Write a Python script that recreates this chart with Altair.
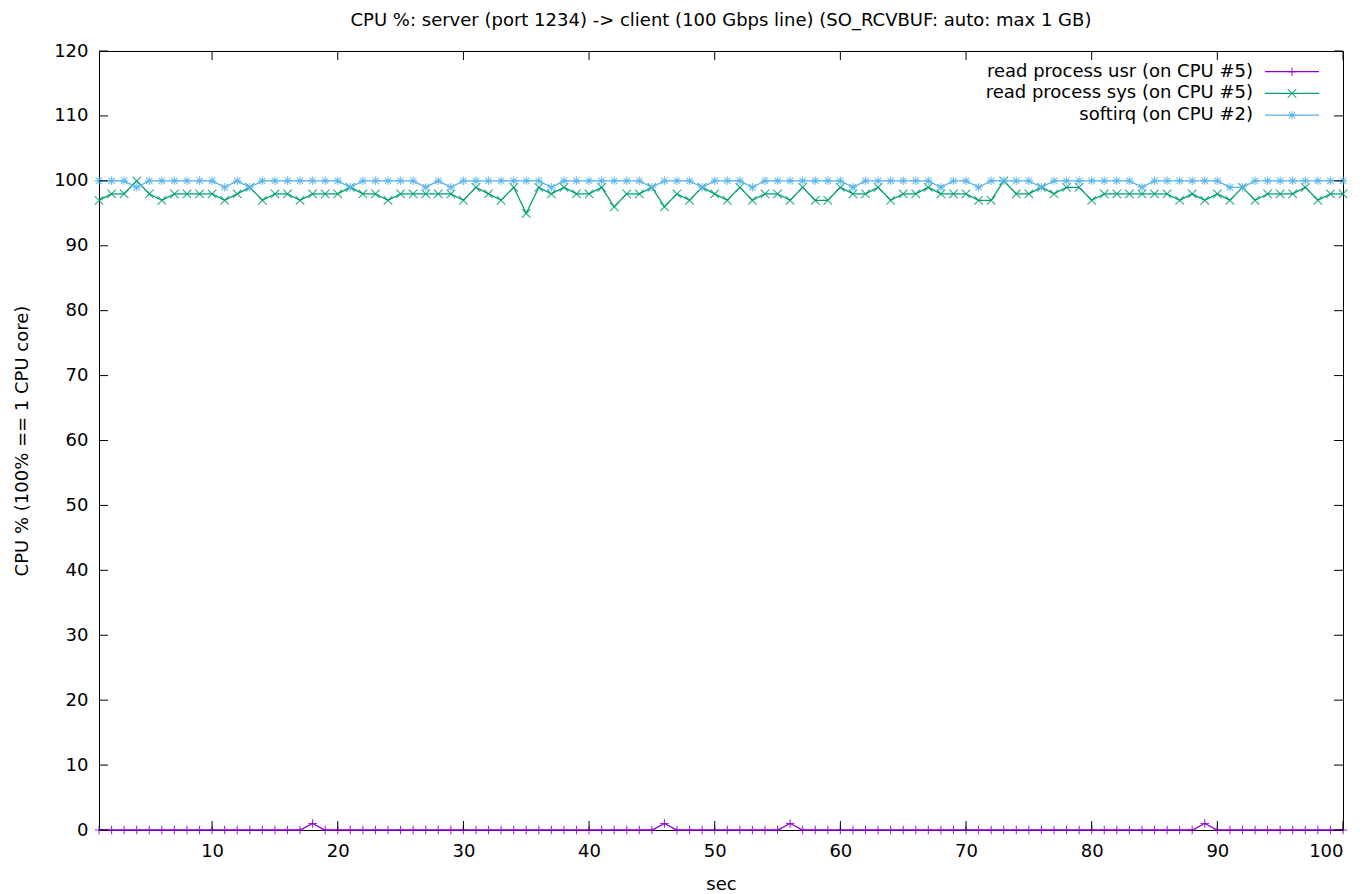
import altair as alt
import pandas as pd

# ---- data ----
secs = list(range(1, 101))

usr = [0] * 100
for s in (18, 46, 56, 89):
    usr[s - 1] = 1

sys_vals = [97, 98, 98, 100, 98, 97, 98, 98, 98, 98,
            97, 98, 99, 97, 98, 98, 97, 98, 98, 98,
            99, 98, 98, 97, 98, 98, 98, 98, 98, 97,
            99, 98, 97, 99, 95, 99, 98, 99, 98, 98,
            99, 96, 98, 98, 99, 96, 98, 97, 99, 98,
            97, 99, 97, 98, 98, 97, 99, 97, 97, 99,
            98, 98, 99, 97, 98, 98, 99, 98, 98, 98,
            97, 97, 100, 98, 98, 99, 98, 99, 99, 97,
            98, 98, 98, 98, 98, 98, 97, 98, 97, 98,
            97, 99, 97, 98, 98, 98, 99, 97, 98, 98]

softirq = [100, 100, 100, 99, 100, 100, 100, 100, 100, 100,
           99, 100, 99, 100, 100, 100, 100, 100, 100, 100,
           99, 100, 100, 100, 100, 100, 99, 100, 99, 100,
           100, 100, 100, 100, 100, 100, 99, 100, 100, 100,
           100, 100, 100, 100, 99, 100, 100, 100, 99, 100,
           100, 100, 99, 100, 100, 100, 100, 100, 100, 100,
           99, 100, 100, 100, 100, 100, 100, 99, 100, 100,
           99, 100, 100, 100, 100, 99, 100, 100, 100, 100,
           100, 100, 100, 99, 100, 100, 100, 100, 100, 100,
           99, 99, 100, 100, 100, 100, 100, 100, 100, 100]

series_names = ["read process usr (on CPU #5)",
                "read process sys (on CPU #5)",
                "softirq (on CPU #2)"]
series_values = [usr, sys_vals, softirq]
series_colors = ["#9400D3", "#009E73", "#56B4E9"]

x_ticks = [10, 20, 30, 40, 50, 60, 70, 80, 90, 100]
y_ticks = [0, 10, 20, 30, 40, 50, 60, 70, 80, 90, 100, 110, 120]

title_text = "CPU %: server (port 1234) -> client (100 Gbps line) (SO_RCVBUF: auto: max 1 GB)"
x_title = "sec"
y_title = "CPU % (100% == 1 CPU core)"

# ---- styling ----
W, H = 1244, 779
FONT = "DejaVu Sans"
FS = 18
PLUS = "M-1,0L1,0M0,-1L0,1"
CROSS = "M-1,-1L1,1M-1,1L1,-1"
STAR = "M-1,0L1,0M0,-1L0,1M-0.75,-0.75L0.75,0.75M-0.75,0.75L0.75,-0.75"
shapes = [PLUS, CROSS, STAR]

xscale = alt.Scale(domain=[1, 100], nice=False, zero=False)
yscale = alt.Scale(domain=[0, 120], nice=False)
xaxis = alt.Axis(values=x_ticks, title=x_title, titleY=54, titleBaseline="middle",
                 labelPadding=12)
yaxis = alt.Axis(values=y_ticks, title=y_title, titleX=-77, titleY=H / 2,
                 titleAngle=-90, titleAlign="center", titleBaseline="middle",
                 labelPadding=11)

layers = []
for i, (name, vals, col, shp) in enumerate(zip(series_names, series_values, series_colors, shapes)):
    df = pd.DataFrame({"sec": secs, "cpu": vals})
    base = alt.Chart(df).encode(
        x=alt.X("sec:Q", scale=xscale, axis=xaxis),
        y=alt.Y("cpu:Q", scale=yscale, axis=yaxis),
    )
    line = base.mark_line(color=col, strokeWidth=1.3)
    pts = base.mark_point(shape=shp, size=72, color=col, filled=False, strokeWidth=1.1,
                          opacity=0.85)
    layers += [line, pts]

    # legend entry (gnuplot style: label on the left, sample on the right)
    ly = 20.7 + 21.7 * i
    ldf = pd.DataFrame({"label": [name]})
    lb = alt.Chart(ldf)
    layers.append(lb.mark_text(align="right", baseline="middle", font=FONT, fontSize=FS,
                               color="#000000").encode(text="label:N", x=alt.value(1154),
                                                       y=alt.value(ly)))
    layers.append(lb.mark_rule(color=col, strokeWidth=1.3).encode(
        x=alt.value(1166), x2=alt.value(1220), y=alt.value(ly)))
    layers.append(lb.mark_point(shape=shp, size=72, color=col, filled=False, strokeWidth=1.1,
                                opacity=0.85).encode(x=alt.value(1193), y=alt.value(ly)))

# inward tick marks on all four sides
ydf = pd.DataFrame({"cpu": y_ticks})
xdf = pd.DataFrame({"sec": x_ticks})
tick_col = "#000000"
ytick_enc = alt.Y("cpu:Q", scale=yscale, axis=yaxis)
xtick_enc = alt.X("sec:Q", scale=xscale, axis=xaxis)
layers.append(alt.Chart(ydf).mark_rule(color=tick_col, strokeWidth=1).encode(
    y=ytick_enc, x=alt.value(0), x2=alt.value(9)))
layers.append(alt.Chart(ydf).mark_rule(color=tick_col, strokeWidth=1).encode(
    y=ytick_enc, x=alt.value(W - 9), x2=alt.value(W)))
layers.append(alt.Chart(xdf).mark_rule(color=tick_col, strokeWidth=1).encode(
    x=xtick_enc, y=alt.value(H), y2=alt.value(H - 9)))
layers.append(alt.Chart(xdf).mark_rule(color=tick_col, strokeWidth=1).encode(
    x=xtick_enc, y=alt.value(0), y2=alt.value(9)))

chart = alt.layer(*layers).properties(
    width=W, height=H,
    title=alt.TitleParams(title_text, font=FONT, fontSize=FS, fontWeight="normal",
                          color="#000000", anchor="middle", offset=12),
    autosize=alt.AutoSizeParams(type="none"),
    padding={"left": 91, "top": 43, "right": 16, "bottom": 66},
).configure_view(stroke="#000000", strokeWidth=1).configure_axis(
    domain=False, ticks=False, grid=False,
    labelFont=FONT, labelFontSize=FS, labelColor="#000000",
    titleFont=FONT, titleFontSize=FS, titleColor="#000000", titleFontWeight="normal",
).configure_axisY(labelAlign="right")

chart.save("out.html", embed_options={"renderer": "svg", "actions": False})
